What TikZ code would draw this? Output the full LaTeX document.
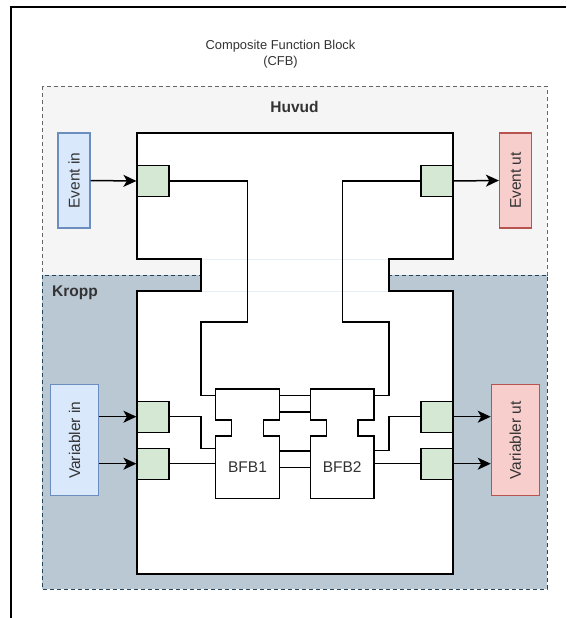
\documentclass[tikz,border=0pt]{standalone}
\usepackage{fontspec}
\setmainfont{Liberation Sans}
\usetikzlibrary{arrows.meta,calc}
\definecolor{headfill}{HTML}{F5F5F5}
\definecolor{headdraw}{HTML}{666666}
\definecolor{bodyfill}{HTML}{BAC8D3}
\definecolor{bodydraw}{HTML}{23445D}
\definecolor{portfill}{HTML}{D5E8D4}
\definecolor{infill}{HTML}{DAE8FC}
\definecolor{indraw}{HTML}{6C8EBF}
\definecolor{outfill}{HTML}{F8CECC}
\definecolor{outdraw}{HTML}{B85450}
\definecolor{ink}{HTML}{333333}
\definecolor{seam}{HTML}{E9EEF2}

% notched outline of a basic function block; #1 is the lower (body) node
\newcommand{\drawbfb}[1]{%
  \draw[blockline, fill=white] (#1.north west) -- ++(16,0) -- ++(0,-16) -- ++(-16,0)
    -- ++(0,-31) -- ($(#1.north east)+(0,-47)$) -- ++(0,31) -- ++(-16,0) -- ++(0,16)
    -- (#1.north east) -- (#1.south east) -- (#1.south west) -- cycle;}

\begin{document}
\begin{tikzpicture}[x=1pt, y=-1pt,
  every node/.style={text=ink, font=\fontsize{15.5}{18}\selectfont},
  blockline/.style={draw=black, line width=1.3pt},
  wire/.style={draw=black, line width=1.3pt},
  arr/.style={draw=black, line width=1.5pt, -{Stealth[length=13pt, width=12pt, inset=3.5pt]}},
  region/.style={dashed, dash pattern=on 4pt off 3pt, line width=1pt},
  port/.style={draw=black, fill=portfill, line width=1.2pt, minimum width=32pt,
    minimum height=31pt, inner sep=0pt},
  inbox/.style={draw=indraw, fill=infill, line width=1.2pt, rotate=90, inner sep=0pt},
  outbox/.style={draw=outdraw, fill=outfill, line width=1.2pt, rotate=90, inner sep=0pt},
  bfbbody/.style={minimum width=63pt, minimum height=62.3pt, inner sep=0pt}
]
\useasboundingbox (0,0) rectangle (566,618);
\fill[white] (0,0) rectangle (566,618);

% outer frame of the composite block
\draw[line width=1.6pt] (566,7) -- (11,7) -- (11,618);
\node[align=center, font=\fontsize{12.9}{16}\selectfont] (title) at (280.5,54)
  {Composite Function Block\\(CFB)};

% head and body regions
\draw[region, draw=headdraw, fill=headfill] (42,86) rectangle (547,275);
\draw[region, draw=bodydraw, fill=bodyfill] (42,275) rectangle (547,589);
\node[font=\bfseries\fontsize{15.5}{18}\selectfont] (huvud) at (294.5,107) {Huvud};
\node[font=\bfseries\fontsize{15.5}{18}\selectfont, anchor=base west, inner sep=0pt]
  (kropp) at (52,296) {Kropp};

% function block outline
\draw[blockline, fill=white] (137,133) -- (453,133) -- (453,259) -- (389,259)
  -- (389,291) -- (453,291) -- (453,574) -- (137,574) -- (137,291) -- (201,291)
  -- (201,259) -- (137,259) -- cycle;
\draw[seam, line width=1pt] (202,259) -- (388,259) (202,291) -- (388,291);

% basic function blocks
\node[bfbbody] (bfb1) at (247.5,467.2) {};
\node[bfbbody] (bfb2) at (342.2,467.2) {};
\drawbfb{bfb1}
\drawbfb{bfb2}
\node at (bfb1) {BFB1};
\node at (bfb2) {BFB2};

% ports
\node[port] (pEI) at (153,181) {};
\node[port] (pEO) at (437,181) {};
\node[port] (pV1) at (153,416.7) {};
\node[port] (pV2) at (153,463.7) {};
\node[port] (pO1) at (437,416.7) {};
\node[port] (pO2) at (437,463.7) {};

% interface boxes
\node[inbox, minimum width=95pt, minimum height=32pt] (evin) at (74,180.5) {Event in};
\node[outbox, minimum width=95pt, minimum height=32pt] (evout) at (515.5,180.5) {Event ut};
\node[inbox, minimum width=111pt, minimum height=48pt] (vin) at (74.7,440.2) {Variabler in};
\node[outbox, minimum width=111pt, minimum height=48pt] (vout) at (515.3,440.3) {Variabler ut};

% internal wiring
\coordinate (b1e) at (bfb1.west |- 0,395.7);
\coordinate (b2e) at (bfb2.east |- 0,395.7);
\draw[wire] (pEI.east) -| (247.5,322) -| (201,395.7) -- (b1e);
\draw[wire] (b2e) -| (389,322) -| (342.7,181) -- (pEO.west);
\draw[wire] (pV1.east) -| (201,448.3) -- (bfb1.west |- 0,448.3);
\draw[wire] (pV2.east) -- (bfb1.west |- pV2.east);
\draw[wire] (bfb2.east |- 0,450.7) -| (389,416.7) -- (pO1.west);
\draw[wire] (bfb2.east |- pO2.west) -- (pO2.west);
\foreach \yy in {395.7,412,451,467.3}
  \draw[wire] (bfb1.east |- 0,\yy) -- (bfb2.west |- 0,\yy);

% arrows across the boundary
\draw[arr] (evin.south) -- (pEI.west);
\draw[arr] (pEO.east) -- (evout.north);
\draw[arr] (vin.south |- pV1.west) -- (pV1.west);
\draw[arr] (vin.south |- pV2.west) -- (pV2.west);
\draw[arr] (pO1.east) -- (vout.north |- pO1.east);
\draw[arr] (pO2.east) -- (vout.north |- pO2.east);
\end{tikzpicture}
\end{document}
